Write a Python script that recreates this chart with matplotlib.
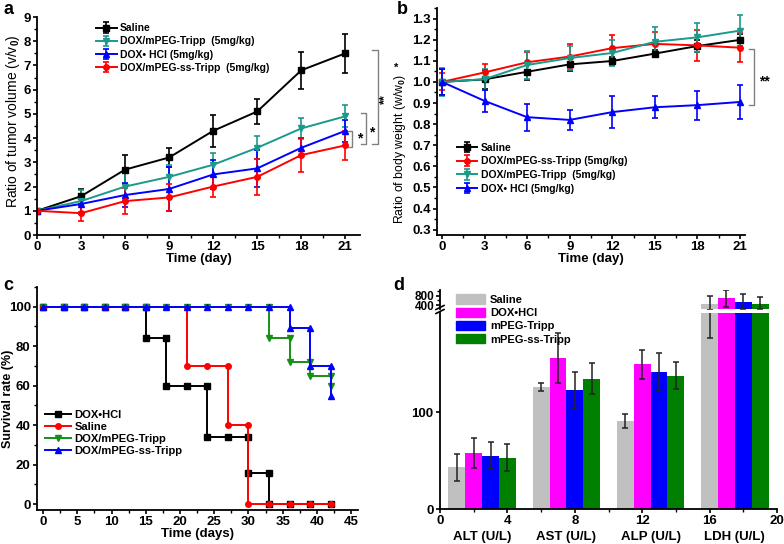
import matplotlib
matplotlib.use('Agg')
import matplotlib.pyplot as plt
from matplotlib.ticker import MultipleLocator
from matplotlib.lines import Line2D
from matplotlib.patches import Patch

plt.rcParams['font.family'] = ['Liberation Sans', 'DejaVu Sans']
plt.rcParams['font.weight'] = 'bold'
plt.rcParams['mathtext.fontset'] = 'custom'
plt.rcParams['mathtext.rm'] = 'Liberation Sans'
plt.rcParams['mathtext.default'] = 'rm'

# ---- panel a: tumor volume ----
days = [0, 3, 6, 9, 12, 15, 18, 21]
vol_saline = [1.0, 1.6, 2.7, 3.2, 4.3, 5.1, 6.8, 7.5]
vol_saline_err = [0.05, 0.3, 0.6, 0.38, 0.65, 0.53, 0.76, 0.81]
vol_tripp = [1.0, 1.4, 2.0, 2.4, 2.9, 3.6, 4.4, 4.9]
vol_tripp_err = [0.05, 0.45, 0.55, 0.5, 0.5, 0.47, 0.43, 0.45]
vol_dox = [1.0, 1.28, 1.65, 1.9, 2.5, 2.75, 3.6, 4.3]
vol_dox_err = [0.05, 0.4, 0.5, 0.9, 0.6, 0.77, 0.4, 0.45]
vol_ss = [1.0, 0.9, 1.4, 1.55, 2.0, 2.4, 3.3, 3.7]
vol_ss_err = [0.05, 0.33, 0.55, 0.55, 0.45, 0.75, 0.7, 0.6]

# ---- panel b: body weight ----
bw_saline = [1.0, 1.012, 1.048, 1.083, 1.099, 1.134, 1.17, 1.199]
bw_saline_err = [0.06, 0.045, 0.04, 0.03, 0.02, 0.015, 0.03, 0.03]
bw_ss = [1.0, 1.045, 1.093, 1.12, 1.16, 1.18, 1.173, 1.162]
bw_ss_err = [0.04, 0.04, 0.05, 0.058, 0.063, 0.055, 0.073, 0.068]
bw_tripp = [1.0, 1.013, 1.08, 1.113, 1.137, 1.19, 1.211, 1.243]
bw_tripp_err = [0.065, 0.05, 0.066, 0.057, 0.06, 0.068, 0.07, 0.074]
bw_dox = [1.0, 0.91, 0.833, 0.82, 0.857, 0.88, 0.89, 0.905]
bw_dox_err = [0.06, 0.053, 0.064, 0.046, 0.074, 0.052, 0.069, 0.081]

# ---- panel c: survival ----
t_dox = [0, 3, 6, 9, 12, 15, 15, 18, 18, 21, 24, 24, 27, 30, 30, 33, 33, 36, 39, 42]
s_dox = [100, 100, 100, 100, 100, 100, 84, 84, 60, 60, 60, 34, 34, 34, 16, 16, 0, 0, 0, 0]
t_sal = [0, 3, 6, 9, 12, 15, 18, 21, 21, 24, 27, 27, 30, 30, 33, 36, 39, 42]
s_sal = [100, 100, 100, 100, 100, 100, 100, 100, 70, 70, 70, 40, 40, 0, 0, 0, 0, 0]
t_tripp = [0, 3, 6, 9, 12, 15, 18, 21, 24, 27, 30, 33, 33, 36, 36, 39, 39, 42, 42]
s_tripp = [100, 100, 100, 100, 100, 100, 100, 100, 100, 100, 100, 100, 84, 84, 72, 72, 65, 65, 60]
t_ss = [0, 3, 6, 9, 12, 15, 18, 21, 24, 27, 30, 33, 36, 36, 39, 39, 42, 42]
s_ss = [100, 100, 100, 100, 100, 100, 100, 100, 100, 100, 100, 100, 100, 89, 89, 70, 70, 55]

# ---- panel d: serum biochemistry ----
groups = ['ALT (U/L)', 'AST (U/L)', 'ALP (U/L)', 'LDH (U/L)']
d_names = ['Saline', 'DOX\u2022HCl', 'mPEG-Tripp', 'mPEG-ss-Tripp']
d_colors = ['#c0c0c0', '#ff00ff', '#0000ff', '#008000']
d_vals = [[43, 126, 91, 430],
          [58, 156, 150, 690],
          [55, 123, 142, 545],
          [53, 135, 138, 445]]
d_err_lo = [[14, 4, 7, 253],
            [16, 26, 15, 380],
            [14, 19, 20, 330],
            [14, 16, 14, 205]]
d_err_hi = [[14, 4, 7, 356],
            [16, 26, 15, 355],
            [14, 19, 20, 318],
            [14, 16, 14, 288]]

fig = plt.figure(figsize=(7.84, 5.44), dpi=100)
W, H = 784, 544


def px_axes(l, t, r, b):
    return fig.add_axes([l / W, 1 - b / H, (r - l) / W, (b - t) / H])


def style(ax, fs=9.5):
    ax.spines['top'].set_visible(False)
    ax.spines['right'].set_visible(False)
    ax.spines['left'].set_linewidth(1.3)
    ax.spines['bottom'].set_linewidth(1.3)
    ax.tick_params(which='major', direction='out', length=3, width=1.2, labelsize=fs, pad=1.5)
    ax.tick_params(which='minor', direction='out', length=2, width=1.0)
    for lab in ax.get_xticklabels() + ax.get_yticklabels():
        lab.set_fontweight('bold')


def bracket(ax, x, y0, y1, w, color='gray'):
    ax.plot([x - w, x, x, x - w], [y0, y0, y1, y1], color=color, lw=1.0, clip_on=False)


eb = dict(capsize=2.5, elinewidth=1.2, capthick=1.2, lw=1.4, ms=4)
leg = dict(frameon=False, handlelength=2.0, borderaxespad=0, handletextpad=0.3)

# panel a
ax = px_axes(37, 17, 360, 235)
ax.errorbar(days, vol_saline, yerr=vol_saline_err, fmt='-s', color='black', label='Saline', **eb)
ax.errorbar(days, vol_tripp, yerr=vol_tripp_err, fmt='-v', color='#1a9a8a', label='DOX/mPEG-Tripp  (5mg/kg)', **eb)
ax.errorbar(days, vol_dox, yerr=vol_dox_err, fmt='-^', color='#0000ff', label='DOX\u2022 HCl (5mg/kg)', **eb)
ax.errorbar(days, vol_ss, yerr=vol_ss_err, fmt='-o', color='#ff0000', label='DOX/mPEG-ss-Tripp  (5mg/kg)', **eb)
ax.set_xlim(0, 22)
ax.set_ylim(0, 9)
ax.set_xticks(days)
ax.xaxis.set_minor_locator(MultipleLocator(1.5))
ax.yaxis.set_major_locator(MultipleLocator(1))
ax.yaxis.set_minor_locator(MultipleLocator(0.5))
ax.set_xlabel('Time (day)', fontsize=9.5, fontweight='bold', labelpad=0)
ax.set_ylabel('Ratio of tumor volume (v/v$_0$)', fontsize=10, fontweight='normal', labelpad=0)
ax.yaxis.set_label_coords(-0.047, 0.52)
style(ax)
ax.legend(loc='upper left', bbox_to_anchor=(0.17, 0.99), fontsize=7.5, labelspacing=0.3, **leg)
bracket(ax, 23.2, 3.76, 7.64, 0.35)
bracket(ax, 22.4, 3.76, 5.03, 0.35)
bracket(ax, 21.45, 3.65, 4.31, 0.3)
ax.text(21.95, 4.0, '*', fontsize=10, ha='center', va='center', clip_on=False)
ax.text(22.8, 4.25, '*', fontsize=10, ha='center', va='center', clip_on=False)
ax.text(23.7, 5.6, '**', fontsize=9, ha='center', va='center', rotation=90, clip_on=False)
fig.text(3 / W, 1 - 10 / H, 'a', fontsize=13, fontweight='bold', va='center')

# panel b
ax = px_axes(437, 8, 745, 235)
ax.errorbar(days, bw_saline, yerr=bw_saline_err, fmt='-s', color='black', label='Saline', **eb)
ax.errorbar(days, bw_ss, yerr=bw_ss_err, fmt='-o', color='#ff0000', label='DOX/mPEG-ss-Tripp (5mg/kg)', **eb)
ax.errorbar(days, bw_tripp, yerr=bw_tripp_err, fmt='-v', color='#1a9a8a', label='DOX/mPEG-Tripp  (5mg/kg)', **eb)
ax.errorbar(days, bw_dox, yerr=bw_dox_err, fmt='-^', color='#0000ff', label='DOX\u2022 HCl (5mg/kg)', **eb)
ax.set_xlim(-0.35, 21.35)
ax.set_ylim(0.275, 1.35)
ax.set_xticks(days)
ax.xaxis.set_minor_locator(MultipleLocator(1.5))
ax.set_yticks([0.3, 0.4, 0.5, 0.6, 0.7, 0.8, 0.9, 1.0, 1.1, 1.2, 1.3])
ax.yaxis.set_minor_locator(MultipleLocator(0.05))
ax.set_xlabel('Time (day)', fontsize=9.5, fontweight='bold', labelpad=0)
ax.set_ylabel('Ratio of body weight (w/w$_0$)', fontsize=8.8, fontweight='normal', labelpad=0)
ax.yaxis.set_label_coords(-0.095, 0.38)
style(ax)
ax.legend(loc='upper left', bbox_to_anchor=(0.05, 0.425), fontsize=7.5, labelspacing=0.35, **leg)
bracket(ax, 22.0, 0.893, 1.154, 0.35)
ax.text(22.7, 1.0, '**', fontsize=10, ha='center', va='center', clip_on=False)
fig.text(396 / W, 1 - 68 / H, '*', fontsize=8, ha='center', va='center')
fig.text(397 / W, 1 - 10 / H, 'b', fontsize=13, fontweight='bold', va='center')

# panel c
ax = px_axes(37, 287, 358, 510)
ms = dict(lw=1.4, ms=4)
ax.plot(t_dox, s_dox, '-s', color='black', label='DOX\u2022HCl', **ms)
ax.plot(t_sal, s_sal, '-o', color='#ff0000', label='Saline', **ms)
ax.plot(t_tripp, s_tripp, '-v', color='#159015', label='DOX/mPEG-Tripp', **ms)
ax.plot(t_ss, s_ss, '-^', color='#0000ff', label='DOX/mPEG-ss-Tripp', **ms)
ax.set_xlim(-0.9, 46)
ax.set_ylim(-3, 110)
ax.xaxis.set_major_locator(MultipleLocator(5))
ax.xaxis.set_minor_locator(MultipleLocator(2.5))
ax.set_yticks([0, 20, 40, 60, 80, 100])
ax.yaxis.set_minor_locator(MultipleLocator(10))
ax.set_xlabel('Time (days)', fontsize=9.5, fontweight='bold', labelpad=0)
ax.set_ylabel('Survival rate (%)', fontsize=9, fontweight='bold', labelpad=0)
ax.yaxis.set_label_coords(-0.072, 0.5)
style(ax)
ax.legend(loc='upper left', bbox_to_anchor=(0.01, 0.47), fontsize=8, labelspacing=0.2,
          **dict(leg, handlelength=2.4))
fig.text(3 / W, 1 - 285 / H, 'c', fontsize=13, fontweight='bold', va='center')

# panel d (broken y axis)
axl = px_axes(440, 313, 777, 509)
axu = px_axes(440, 290, 777, 309)
for i in range(4):
    xs = [5 * g + 1 + i for g in range(4)]
    axl.bar(xs, d_vals[i], width=1.0, color=d_colors[i], edgecolor='none',
            yerr=[d_err_lo[i], d_err_hi[i]], capsize=2.5,
            error_kw=dict(elinewidth=1.1, capthick=1.1, ecolor='#222222'))
    # only the LDH bars reach the upper segment
    axu.bar(xs[3], d_vals[i][3], width=1.0, color=d_colors[i], edgecolor='none',
            yerr=[[d_err_lo[i][3]], [d_err_hi[i][3]]], capsize=2.5,
            error_kw=dict(elinewidth=1.1, capthick=1.1, ecolor='#222222'))
for ax_ in (axl, axu):
    ax_.set_xlim(0, 20)
axl.set_ylim(0, 203)
axu.set_ylim(230, 1045)
axl.set_xticks([0, 4, 8, 12, 16, 20])
axl.xaxis.set_minor_locator(MultipleLocator(2))
axl.set_yticks([0, 100])
style(axl)
axu.set_yticks([400, 800])
axu.yaxis.set_minor_locator(MultipleLocator(200))
style(axu, fs=8.5)
axu.spines['bottom'].set_visible(False)
axu.tick_params(axis='x', which='both', bottom=False, labelbottom=False)
axu.tick_params(axis='y', which='major', pad=1)
for g, name in enumerate(groups):
    axl.text(2.5 + 5 * g, -0.145, name, transform=axl.get_xaxis_transform(),
             ha='center', va='center', fontsize=9.5, fontweight='bold')
# break marks on the y axis
for yy in (307.5, 311.5):
    fig.add_artist(Line2D([436 / W, 444 / W], [1 - (yy + 2) / H, 1 - (yy - 2) / H],
                          color='black', lw=1.2))
handles = [Patch(color=c, label=n) for c, n in zip(d_colors, d_names)]
fig.legend(handles=handles, loc='upper left', bbox_to_anchor=(452 / W, 1 - 290 / H),
           frameon=False, fontsize=8, handlelength=2.6, handleheight=0.9,
           labelspacing=0.25, borderaxespad=0, handletextpad=0.4)
fig.text(393 / W, 1 - 285 / H, 'd', fontsize=13, fontweight='bold', va='center')

fig.savefig('out.png', dpi=100)
